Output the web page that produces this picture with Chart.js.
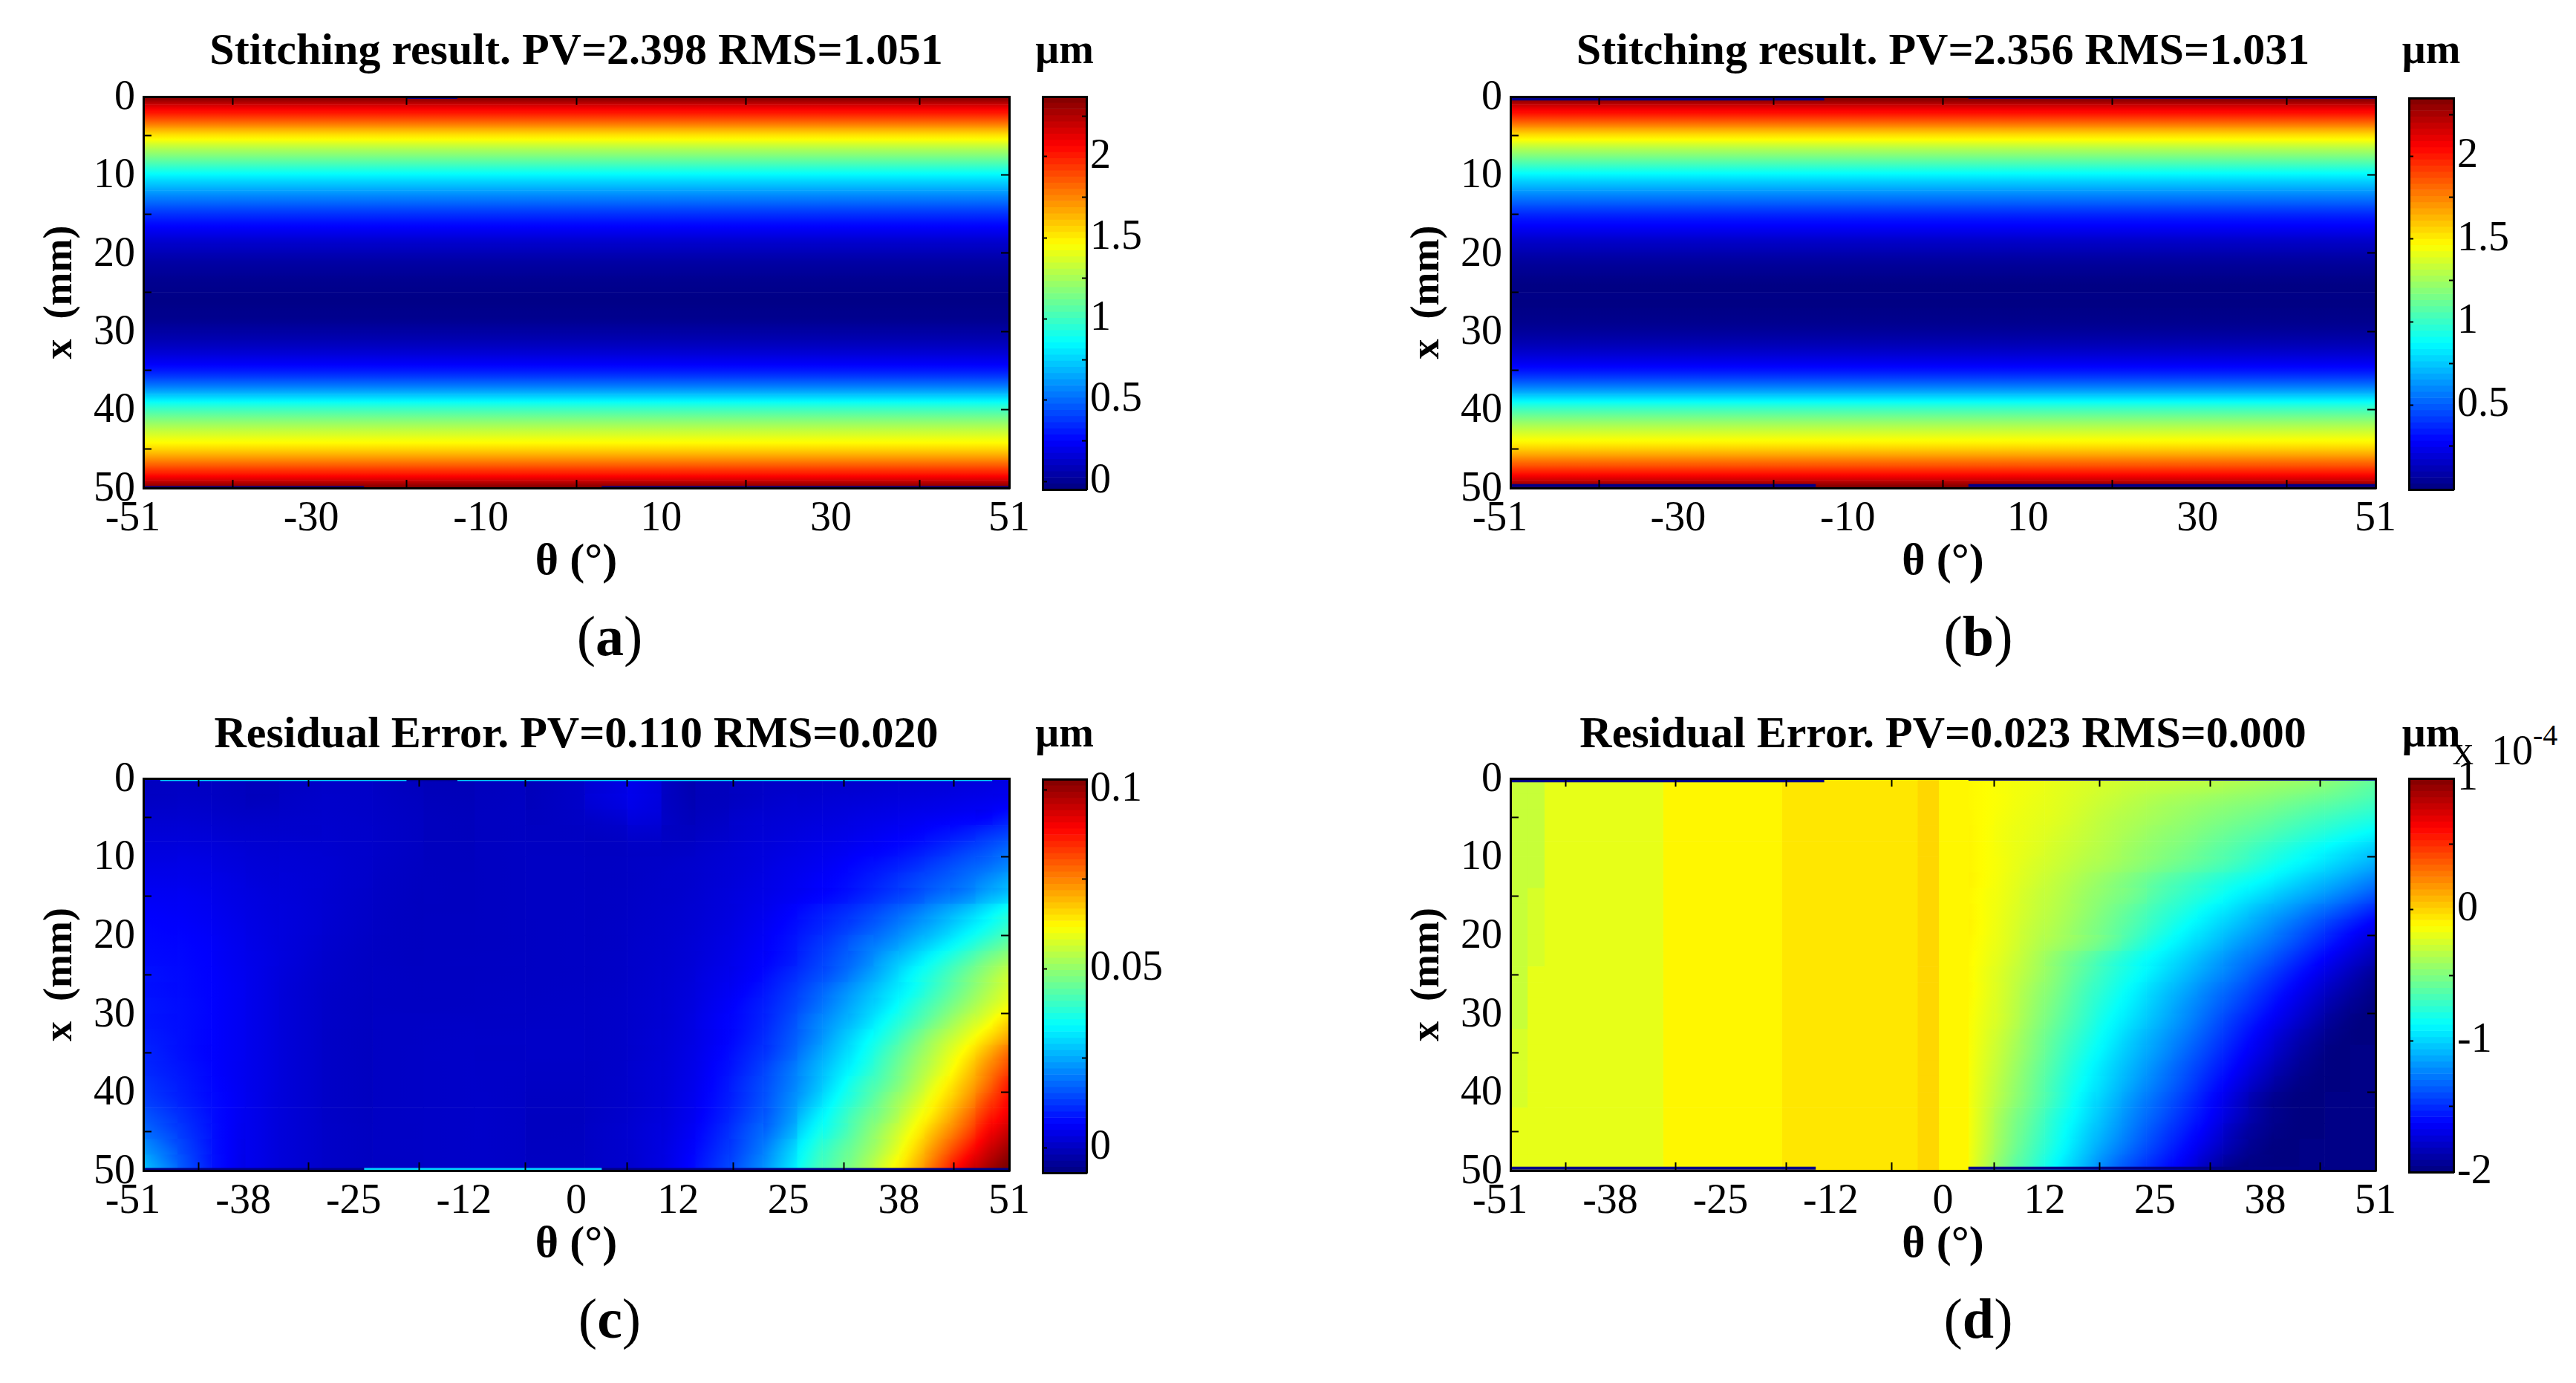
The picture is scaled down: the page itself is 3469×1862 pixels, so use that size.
<!DOCTYPE html>
<html>
<head>
<meta charset="utf-8">
<title>Stitching result and residual error</title>
<script src="https://cdn.jsdelivr.net/npm/chart.js@4/dist/chart.umd.min.js"></script>
<style>
    html, body { margin: 0; background: #fff; }
    #page { position: relative; width: 3469px; height: 1862px; overflow: hidden; font-family: "Liberation Serif", serif; color: #000; }
    canvas { position: absolute; }
    .caption { position: absolute; width: 200px; text-align: center; font-size: 76px; line-height: 76px; }
    .power { position: absolute; font-size: 56px; line-height: 56px; white-space: nowrap; word-spacing: 10px; }
    .power sup { font-size: 40px; line-height: 0; position: relative; vertical-align: baseline; top: -26px; }
</style>
</head>
<body>
<div id="page">
    <div class="caption" style="left:721px;top:818px">(<b>a</b>)</div>
    <div class="caption" style="left:2564px;top:818px">(<b>b</b>)</div>
    <div class="caption" style="left:721px;top:1737px">(<b>c</b>)</div>
    <div class="caption" style="left:2564px;top:1737px">(<b>d</b>)</div>
    <div class="power" style="left:3303px;top:982px">x 10<sup>-4</sup></div>
</div>

<script>
const thetaTicksTop = [-51, -30, -10, 10, 30, 51];
const thetaTicksBottom = [-51, -38, -25, -12, 0, 12, 25, 38, 51];
const xTicks = [0, 10, 20, 30, 40, 50];

// a, b: one row per mm, the same across theta (um)
const stitchRows = [0.5, 1.5, 2.5, 3.5, 4.5, 5.5, 6.5, 7.5, 8.5, 9.5, 10.5, 11.5, 12.5, 13.5, 14.5, 15.5, 16.5, 17.5, 18.5, 19.5, 20.5, 21.5, 22.5, 23.5, 24.5,
    25.5, 26.5, 27.5, 28.5, 29.5, 30.5, 31.5, 32.5, 33.5, 34.5, 35.5, 36.5, 37.5, 38.5, 39.5, 40.5, 41.5, 42.5, 43.5, 44.5, 45.5, 46.5, 47.5, 48.5, 49.5];
const stitchA = [2.30, 2.10, 1.95, 1.78, 1.60, 1.45, 1.30, 1.17, 1.04, 0.91, 0.79, 0.69, 0.59, 0.50, 0.41, 0.33, 0.26, 0.20, 0.14, 0.10, 0.06, 0.03, 0.01, -0.01, -0.02,
    -0.03, -0.03, -0.02, -0.01, 0.02, 0.05, 0.09, 0.14, 0.20, 0.27, 0.36, 0.48, 0.62, 0.78, 0.94, 1.07, 1.19, 1.30, 1.40, 1.50, 1.62, 1.76, 1.91, 2.07, 2.28];
const stitchB = [2.31, 2.11, 1.96, 1.79, 1.61, 1.46, 1.31, 1.18, 1.05, 0.92, 0.80, 0.70, 0.60, 0.51, 0.42, 0.34, 0.28, 0.22, 0.16, 0.12, 0.08, 0.05, 0.03, 0.01, 0,
    0, 0, 0.01, 0.02, 0.04, 0.07, 0.11, 0.16, 0.22, 0.29, 0.38, 0.50, 0.64, 0.80, 0.96, 1.09, 1.21, 1.32, 1.42, 1.52, 1.64, 1.78, 1.92, 2.08, 2.28];

// c, d: rows every 2 mm
const residualRows = [1, 3, 5, 7, 9, 11, 13, 15, 17, 19, 21, 23, 25, 27, 29, 31, 33, 35, 37, 39, 41, 43, 45, 47, 49];

// c: edges of the theta columns, values in 10^-3 um
const columnsC = [-51, -47, -43, -39, -35, -30, -24, -18, -12, -6, 1, 6, 10, 14, 18, 22, 26, 29, 32, 35, 38, 41, 44, 47, 49, 51];
const residualC = [
    [0.2, 0.4, 0, -0.4, 0.5, 0.9, 0.1, -0.8, -0.1, 0.1, 3, 4, -0.6, -0.5, 0.3, 1, 1.3, 1.6, 1.8, 2.2, 2.5, 2.8, 3.2, 3.6, 4],
    [0.6, 0.8, 0.3, -0.1, 0.8, 1, 0.3, -0.6, 0, 0.2, 3, 3.8, -0.4, -0.4, 0.6, 1.6, 2, 2.4, 2.8, 3.2, 3.6, 4, 4.6, 5, 5.5],
    [1.6, 1.6, 1, 0.8, 1.1, 1.1, 0.5, -0.4, 0.1, 0.2, 1.5, 3, 0, 0.2, 1.6, 2.2, 2.8, 3.2, 3.8, 4.4, 5, 5.7, 6.3, 6.8, 8.5],
    [2.4, 2.4, 1.8, 1.5, 1.4, 1.3, 0.6, -0.3, 0.1, 0.2, 0.5, 1.5, 0.2, 0.8, 2, 2.8, 3.5, 4, 4.8, 5.7, 6.5, 8, 9.5, 11.5, 13],
    [3.2, 3.2, 2.6, 2, 1.9, 1.4, 0.6, -0.2, 0.2, 0.3, 0.2, 0.6, 0.6, 1.5, 2.5, 3.4, 4.3, 5, 6, 7, 8.5, 10.5, 13, 15, 17],
    [4, 4, 3.2, 2.4, 2.2, 1.5, 0.5, -0.1, 0.2, 0.4, 0.3, 0.7, 1.1, 1.9, 2.8, 4, 5, 6, 7.5, 9, 11, 13.5, 16, 18, 20],
    [4.8, 4.6, 3.8, 2.8, 2.4, 1.5, 0.4, 0, 0.2, 0.4, 0.3, 0.8, 1.3, 2.1, 3.2, 4.5, 5.8, 7, 8.8, 11, 13.5, 16, 18.5, 21.5, 24],
    [5.6, 5.3, 4.2, 3.2, 2.5, 1.4, 0.3, 0, 0.2, 0.4, 0.4, 0.9, 1.4, 2.4, 3.6, 5, 6.4, 7.8, 10, 12.5, 15, 18.5, 21, 25, 27.5],
    [6.3, 5.8, 4.6, 3.4, 2.6, 1.3, 0.2, 0, 0.2, 0.4, 0.4, 1, 1.6, 2.6, 4, 6, 8.5, 10.5, 13, 16, 19.5, 23.5, 27.5, 31.5, 35],
    [6.8, 6.3, 5, 3.6, 2.6, 1.2, 0.2, 0.1, 0.2, 0.4, 0.5, 1.1, 1.7, 2.9, 4.5, 6.8, 9.5, 12, 15, 18.5, 22.5, 26.5, 31, 35, 38.5],
    [7.2, 6.8, 5.4, 3.8, 2.5, 1, 0.2, 0.1, 0.2, 0.4, 0.5, 1.2, 1.9, 3.2, 5, 7.5, 11, 14, 18, 21.5, 26, 30.5, 35.5, 40, 43.5],
    [7.5, 7, 5.6, 4, 2.4, 0.8, 0.2, 0.2, 0.3, 0.4, 0.6, 1.3, 2, 3.5, 5.5, 8, 12, 15.5, 19.5, 25, 30, 35.5, 41, 46, 49.5],
    [8, 7.2, 5.8, 4, 2.2, 0.7, 0.3, 0.2, 0.3, 0.4, 0.6, 1.4, 2.2, 4, 6, 9.5, 13.5, 17, 22, 27.5, 33.5, 39, 45, 50, 54],
    [8, 7.3, 6, 4, 2, 0.6, 0.3, 0.3, 0.4, 0.5, 0.7, 1.5, 2.4, 4.5, 7, 11, 15.5, 20, 25, 30, 35, 41, 47, 52, 56],
    [8.5, 7.5, 6, 4, 2, 0.5, 0.3, 0.3, 0.5, 0.6, 0.8, 1.6, 2.6, 5, 8, 12, 17, 22, 27, 32, 38, 44, 50, 55, 59],
    [8.5, 7.5, 6, 4, 2, 0.5, 0.5, 0.6, 0.6, 0.7, 0.8, 1.6, 2.8, 5.5, 8.5, 13, 19, 24, 29, 35, 41, 47.5, 54, 59, 64],
    [9, 7.5, 6, 4, 2, 0.4, 0.5, 0.7, 0.8, 0.8, 0.8, 1.8, 3, 5.5, 9, 14, 20, 26, 32, 38, 45, 52, 58, 64, 69],
    [9.5, 7.5, 6, 4, 2, 0.4, 0.5, 0.8, 0.8, 0.8, 0.8, 1.8, 3.2, 6, 10, 15, 22, 28, 34, 41, 48, 55, 62, 69, 75],
    [10, 8, 6, 4, 2, 0.4, 0.5, 0.8, 0.8, 0.6, 0.8, 2, 3.4, 6.5, 11, 17, 24, 30, 36, 43, 50, 57, 65, 73, 79],
    [11, 8.5, 6.2, 4, 2, 0.4, 0.5, 0.8, 0.8, 0.4, 0.8, 2, 3.6, 7, 12, 18, 25, 32, 39, 45, 52, 60, 68, 76, 83],
    [12, 9, 6.5, 4, 2, 0.4, 0.5, 0.8, 0.8, 0.2, 0.8, 2, 3.8, 7.5, 12.5, 19, 27, 34.5, 41, 48, 55, 63, 71, 80, 86],
    [14, 10, 6.5, 4, 2, 0.4, 0.5, 0.8, 0.8, 0, 0.8, 2.2, 4, 8, 13.5, 20, 30, 37, 44, 50, 58, 66, 75, 84, 89],
    [16, 11, 6.5, 4, 2, 0.5, 0.5, 0.8, 0.8, 0, 1, 2.5, 4.5, 9, 15, 22, 33, 39, 46, 53, 61, 70, 79, 88, 93],
    [19, 12, 6.5, 4, 2, 0.5, 0.5, 0.8, 0.8, 0.1, 1, 2.5, 5, 10, 16, 25, 36, 42, 48, 55, 64, 74, 84, 92, 97],
    [22, 13, 6.5, 4, 2, 0.5, 0.4, 0.8, 0.8, 0.2, 1, 2.5, 5.5, 11, 17.5, 27, 38, 44, 50, 58, 67, 78, 89, 96, 101]
];

// d: edges of the theta columns, values in 10^-6 um
const columnsD = [-51, -49, -47, -33, -19, -3, -0.5, 3, 6, 9, 12, 15, 18, 21, 24, 27, 30, 33, 36, 39, 42, 45, 48, 51];
const residualD = [
    [-28, -27, -19, -12, -6, -1, -8, -12, -15, -17, -20, -23, -26, -29, -31, -33, -35, -38, -41, -44, -47, -52, -58],
    [-28, -27, -19, -12, -6, -1, -8, -12, -15, -18, -21, -25, -29, -33, -37, -40, -43, -46, -49, -53, -57, -61, -66],
    [-28, -27, -19, -12, -6, -1, -8, -12, -16, -19, -22, -27, -32, -36, -40, -44, -48, -52, -56, -61, -66, -71, -76],
    [-28, -27, -19, -12, -6, -1, -8, -12, -17, -20, -24, -29, -34, -39, -44, -48, -53, -58, -63, -69, -75, -81, -87],
    [-28, -27, -19, -12, -6, -1, -8, -12, -17, -21, -26, -31, -36, -42, -47, -52, -58, -64, -71, -78, -85, -92, -99],
    [-28, -27, -19, -12, -6, -1, -8, -12, -17, -23, -28, -34, -39, -45, -51, -57, -63, -70, -78, -86, -93, -101, -109],
    [-28, -27, -19, -12, -6, -1, -8, -12, -18, -25, -31, -38, -45, -52, -60, -67, -74, -81, -88, -96, -104, -112, -121],
    [-28, -26, -19, -12, -6, -1, -8, -13, -19, -27, -33, -41, -48, -55, -65, -73, -81, -90, -98, -107, -115, -124, -134],
    [-28, -25, -19, -12, -6, -1, -8, -13, -20, -28, -35, -43, -52, -61, -71, -80, -90, -99, -109, -118, -128, -138, -149],
    [-28, -24, -19, -12, -6, -1, -8, -13, -21, -30, -37, -46, -55, -65, -76, -87, -97, -107, -117, -128, -139, -151, -162],
    [-28, -23, -19, -12, -6, -1, -8, -14, -22, -32, -40, -48, -58, -71, -83, -94, -104, -115, -125, -136, -148, -160, -172],
    [-28, -22, -19, -12, -6, -1, -8, -15, -24, -35, -47, -58, -70, -81, -91, -101, -112, -123, -133, -145, -157, -169, -180],
    [-28, -21, -19, -12, -6, -1, -8, -16, -26, -37, -49, -62, -74, -85, -96, -107, -118, -129, -141, -153, -165, -177, -188],
    [-28, -20, -19, -12, -6, -1, -8, -16, -27, -40, -52, -66, -78, -90, -102, -113, -125, -136, -148, -160, -172, -184, -193],
    [-28, -19, -19, -12, -6, -1, -8, -17, -28, -42, -55, -69, -82, -94, -106, -118, -130, -142, -154, -166, -178, -190, -197],
    [-27, -19, -19, -12, -6, -1, -8, -18, -29, -44, -58, -72, -86, -98, -110, -122, -135, -148, -160, -172, -184, -195, -200],
    [-26, -19, -19, -12, -6, -1, -8, -19, -32, -47, -62, -76, -90, -103, -115, -127, -140, -153, -166, -179, -190, -198, -200],
    [-25, -19, -19, -12, -6, -1, -8, -20, -34, -49, -65, -80, -94, -107, -119, -132, -145, -158, -171, -184, -194, -200, -200],
    [-24, -19, -19, -12, -6, -1, -8, -21, -36, -52, -68, -84, -98, -111, -124, -137, -150, -163, -177, -189, -197, -200, -200],
    [-23, -19, -19, -12, -6, -1, -8, -22, -38, -54, -71, -87, -101, -115, -128, -141, -155, -169, -183, -194, -199, -200, -200],
    [-22, -19, -19, -12, -6, -1, -8, -23, -40, -56, -73, -91, -105, -120, -133, -146, -160, -175, -190, -198, -200, -200, -200],
    [-21, -19, -19, -12, -6, -1, -8, -24, -44, -60, -78, -94, -109, -124, -137, -150, -163, -178, -191, -198, -200, -200, -200],
    [-20, -19, -19, -12, -6, -1, -8, -25, -46, -63, -81, -98, -113, -128, -142, -155, -168, -184, -194, -199, -200, -200, -200],
    [-19, -19, -19, -12, -6, -1, -8, -26, -48, -66, -84, -102, -118, -133, -147, -160, -174, -188, -197, -200, -200, -200, -200],
    [-19, -19, -19, -12, -6, -1, -8, -28, -52, -70, -89, -107, -125, -140, -153, -166, -182, -195, -199, -200, -200, -200, -200]
];

// thin edge artefacts along x=0 and x=50: [theta from, theta to, x, value]
const edgesA = [[-20, -14, 0.1, -0.05], [-51, -25, 49.95, -0.05], [3, 51, 49.95, -0.05]];
const edgesB = [[-51, -14, 0.3, 0], [3, 51, 0.1, 0], [-51, -15, 49.7, 0], [3, 51, 49.7, 0]];
const edgesC = [[-49, -20, 0.15, 30], [-20, -14, 0.15, -7], [-14, 49, 0.15, 30], [-51, -25, 49.85, -7], [-25, 3, 49.85, 30], [3, 51, 49.85, -7]];
const edgesD = [[-51, -14, 0.3, -200], [3, 51, 0.1, -200], [-51, -15, 49.7, -200], [3, 51, 49.7, -200]];

// colour limits [low, high] of each panel, in the units of its table
const limitsA = [-0.05, 2.37];
const limitsB = [-0.01, 2.35];
const limitsC = [-7, 103];
const limitsD = [-200, 100];

// colorbars: tick values, as printed next to the bar
const barTicksA = [0, 0.5, 1, 1.5, 2];
const barTicksB = [0.5, 1, 1.5, 2];
const barTicksC = [0, 0.05, 0.1];
const barTicksD = [-2, -1, 0, 1];

const TICK_FONT = { family: 'Liberation Serif', size: 56, lineHeight: 1 };
const TITLE_FONT = { family: 'Liberation Serif', size: 60, weight: 'bold', lineHeight: 1 };
const UNIT_FONT = { family: 'Liberation Serif', size: 56, weight: 'bold', lineHeight: 1 };
const LABEL_X_FONT = { family: 'Liberation Serif', size: 60, weight: 'bold', lineHeight: 1 };
const LABEL_Y_FONT = { family: 'Liberation Serif', size: 54, weight: 'bold', lineHeight: 1 };
const Y_W = 170, X_H = 130, RIGHT_PAD = 60;

const jetSmooth = (value, limits) => {
    let c = Math.max(0, Math.min(1, (value - limits[0]) / (limits[1] - limits[0])));
    const ch = k => Math.round(255 * Math.max(0, Math.min(1, 1.5 - Math.abs(4 * c - k))));
    return `rgb(${ch(3)},${ch(2)},${ch(1)})`;
};

// the 64 steps of the jet map
const jet = (value, limits) => {
    let t = (value - limits[0]) / (limits[1] - limits[0]);
    let i = Math.max(0, Math.min(63, Math.floor(t * 64)));
    return jetSmooth((i + 0.5) / 64, [0, 1]);
};

const addCanvas = (left, top, width, height) => {
    let canvas = document.createElement('canvas');
    canvas.width = width;
    canvas.height = height;
    canvas.style.left = left + 'px';
    canvas.style.top = top + 'px';
    canvas.style.width = width + 'px';
    canvas.style.height = height + 'px';
    document.getElementById('page').appendChild(canvas);
    return canvas.getContext('2d');
};

const fixSize = (key, size) => scale => {
    scale[key] = size;
    scale.paddingLeft = scale.paddingRight = scale.paddingTop = scale.paddingBottom = 0;
};

const useTicks = values => scale => {
    scale.ticks = values.map(value => ({ value }));
};

const gridOf = (len, width) => ({
    drawOnChartArea: false, drawTicks: true, tickLength: -len, tickWidth: width, tickColor: '#000', z: 1
});

const BORDER = { display: true, color: '#000', width: 3, z: 1 };

const edgeDatasets = (edges, limits) => edges.map(e => ({
    type: 'line', indexAxis: 'x', order: 0,
    data: [{ x: e[0], y: e[2] }, { x: e[1], y: e[2] }],
    borderColor: jet(e[3], limits), borderWidth: 4, pointRadius: 0
}));

// slope of a cell towards its neighbours, per pixel
const slope = (values, pixels, k) => {
    let a = Math.max(0, k - 1), b = Math.min(values.length - 1, k + 1);
    return a === b ? 0 : (values[b] - values[a]) / (pixels[b] - pixels[a]);
};

// cell colour: shaded across the cell following the slope of the table at that cell,
// columns before flatUntil keep one flat colour (sharp stripes of panel d)
const cellColor = (columns, rows, table, limits, j, flatUntil) => ctx => {
    let chart = ctx.chart;
    let row = table[ctx.dataIndex];
    if (!chart.chartArea || !row) return jet(row ? row[j] : limits[0], limits);
    let v = row[j];
    let sx = chart.scales.x, sy = chart.scales.y;
    let centres = columns.slice(0, -1).map((c, n) => (sx.getPixelForValue(c) + sx.getPixelForValue(columns[n + 1])) / 2);
    let rowPixels = rows.map(r => sy.getPixelForValue(r));
    let free = columns.length > 2 && j >= flatUntil;
    let gx = free ? slope(row.slice(flatUntil), centres.slice(flatUntil), j - flatUntil) : 0;
    let gy = free || columns.length === 2 ? slope(table.map(r => r[j]), rowPixels, ctx.dataIndex) : 0;
    let size = Math.hypot(gx, gy);
    if (size === 0) return jet(v, limits);
    let w = sx.getPixelForValue(columns[j + 1]) - sx.getPixelForValue(columns[j]);
    let h = Math.abs(rowPixels[1] - rowPixels[0]);
    let reach = (Math.abs(gx) * w + Math.abs(gy) * h) / (2 * size) + 1;
    let cx = centres[j], cy = rowPixels[ctx.dataIndex];
    let ux = gx / size * reach, uy = gy / size * reach;
    let gradient = chart.ctx.createLinearGradient(cx - ux, cy - uy, cx + ux, cy + uy);
    for (let s = 0; s <= 4; s++) {
        gradient.addColorStop(s / 4, jetSmooth(v + (s / 2 - 1) * size * reach, limits));
    }
    return gradient;
};

// one dataset per theta column, one bar per row
const cellDatasets = (columns, rows, table, limits, flatUntil) => columns.slice(0, -1).map((from, j) => ({
    indexAxis: 'y', order: 1, grouped: false, barPercentage: 1, categoryPercentage: 1,
    data: rows.map(x => ({ y: x, x: [from, columns[j + 1]] })),
    backgroundColor: cellColor(columns, rows, table, limits, j, flatUntil)
}));

const drawPanel = (plot, title, titlePad, thetaTicks, datasets) => {
    const plotW = plot.right - plot.left, plotH = plot.bottom - plot.top;
    const titleH = TITLE_FONT.size + titlePad;
    let ctx = addCanvas(plot.left - Y_W, plot.top - titleH, Y_W + plotW + RIGHT_PAD, titleH + plotH + X_H);
    return new Chart(ctx, {
        type: 'bar',
        data: { datasets },
        options: {
            responsive: false,
            animation: false,
            layout: { padding: { right: RIGHT_PAD } },
            plugins: {
                legend: { display: false },
                tooltip: { enabled: false },
                title: { display: true, text: title, color: '#000', font: TITLE_FONT, fullSize: false, padding: { top: 0, bottom: titlePad } }
            },
            scales: {
                x: {
                    type: 'linear', min: -51, max: 51, offset: false, position: 'bottom',
                    afterBuildTicks: useTicks(thetaTicks), afterFit: fixSize('height', X_H),
                    grid: gridOf(11, 2), border: BORDER,
                    ticks: {
                        autoSkip: false, maxRotation: 0, color: '#000', font: TICK_FONT, padding: 25,
                        // the digits sit on the tick, the minus hangs to the left
                        callback: v => v < 0 ? v + '\u00a0\u00a0' : String(v)
                    },
                    title: { display: true, text: 'θ (°)', color: '#000', font: LABEL_X_FONT, padding: { top: 2, bottom: 0 } }
                },
                y: {
                    type: 'linear', min: 0, max: 50, reverse: true, offset: false, position: 'left',
                    afterBuildTicks: useTicks(xTicks), afterFit: fixSize('width', Y_W),
                    grid: gridOf(11, 2), border: BORDER,
                    ticks: { autoSkip: false, color: '#000', font: TICK_FONT, padding: 22, labelOffset: 2, callback: v => String(v) },
                    title: { display: true, text: 'x  (mm)', color: '#000', font: LABEL_Y_FONT, padding: { top: 32, bottom: 0 } }
                },
                x2: {
                    type: 'linear', axis: 'x', min: -51, max: 51, offset: false, position: 'top',
                    afterBuildTicks: useTicks(thetaTicks), afterFit: fixSize('height', 0),
                    grid: gridOf(11, 2), border: BORDER, ticks: { display: false }
                },
                y2: {
                    type: 'linear', axis: 'y', min: 0, max: 50, reverse: true, offset: false, position: 'right',
                    afterBuildTicks: useTicks(xTicks), afterFit: fixSize('width', 0),
                    grid: gridOf(11, 2), border: BORDER, ticks: { display: false }
                }
            }
        }
    });
};

const drawColorbar = (bar, titlePad, range, ticks) => {
    // same width each side of the bar, so the unit stays centred over it
    const SIDE_W = 165;
    const plotW = bar.right - bar.left, plotH = bar.bottom - bar.top;
    const titleH = UNIT_FONT.size + titlePad;
    let ctx = addCanvas(bar.left - SIDE_W, bar.top - titleH, SIDE_W + plotW + SIDE_W, titleH + plotH + 40);
    // 64 colour steps of the jet map between the limits of the bar
    const step = (range[1] - range[0]) / 64;
    const levels = Array.from({ length: 64 }, (_, i) => range[0] + (i + 0.5) * step);
    return new Chart(ctx, {
        type: 'bar',
        data: {
            datasets: [{
                indexAxis: 'y', grouped: false, barPercentage: 1, categoryPercentage: 1,
                data: levels.map(v => ({ y: v, x: [0, 1] })),
                backgroundColor: levels.map(v => jet(v, range))
            }]
        },
        options: {
            responsive: false,
            animation: false,
            layout: { padding: { bottom: 40 } },
            plugins: {
                legend: { display: false },
                tooltip: { enabled: false },
                title: { display: true, text: 'µm', color: '#000', font: UNIT_FONT, fullSize: true, padding: { top: 0, bottom: titlePad } }
            },
            scales: {
                x: { type: 'linear', min: 0, max: 1, offset: false, position: 'top', display: true, afterFit: fixSize('height', 0), grid: { display: false }, ticks: { display: false }, border: BORDER },
                x2: { type: 'linear', axis: 'x', min: 0, max: 1, offset: false, position: 'bottom', afterFit: fixSize('height', 0), grid: { display: false }, ticks: { display: false }, border: BORDER },
                y: {
                    type: 'linear', min: range[0], max: range[1], offset: false, position: 'right',
                    afterBuildTicks: useTicks(ticks), afterFit: fixSize('width', SIDE_W),
                    grid: gridOf(6, 2), border: BORDER,
                    ticks: { autoSkip: false, color: '#000', font: TICK_FONT, padding: 11, callback: v => String(v) }
                },
                y2: {
                    type: 'linear', axis: 'y', min: range[0], max: range[1], offset: false, position: 'left',
                    afterBuildTicks: useTicks(ticks), afterFit: fixSize('width', SIDE_W),
                    grid: gridOf(6, 2), border: BORDER, ticks: { display: false }
                }
            }
        }
    });
};

const fullSpan = [-51, 51];

drawPanel({ left: 193, right: 1359, top: 130, bottom: 657 }, 'Stitching result. PV=2.398 RMS=1.051', 30, thetaTicksTop,
    [...edgeDatasets(edgesA, limitsA), ...cellDatasets(fullSpan, stitchRows, stitchA.map(v => [v]), limitsA, 1)]);
drawPanel({ left: 2034, right: 3199, top: 130, bottom: 657 }, 'Stitching result. PV=2.356 RMS=1.031', 30, thetaTicksTop,
    [...edgeDatasets(edgesB, limitsB), ...cellDatasets(fullSpan, stitchRows, stitchB.map(v => [v]), limitsB, 1)]);
drawPanel({ left: 193, right: 1359, top: 1048, bottom: 1576 }, 'Residual Error. PV=0.110 RMS=0.020', 28, thetaTicksBottom,
    [...edgeDatasets(edgesC, limitsC), ...cellDatasets(columnsC, residualRows, residualC, limitsC, 0)]);
drawPanel({ left: 2034, right: 3199, top: 1048, bottom: 1576 }, 'Residual Error. PV=0.023 RMS=0.000', 28, thetaTicksBottom,
    [...edgeDatasets(edgesD, limitsD), ...cellDatasets(columnsD, residualRows, residualD, limitsD, 7)]);

drawColorbar({ left: 1404, right: 1463, top: 130, bottom: 659 }, 31, limitsA, barTicksA);
drawColorbar({ left: 3244, right: 3304, top: 132, bottom: 659 }, 33, limitsB, barTicksB);
drawColorbar({ left: 1404, right: 1463, top: 1049, bottom: 1579 }, 30, [-0.007, 0.103], barTicksC);
drawColorbar({ left: 3244, right: 3304, top: 1048, bottom: 1578 }, 29, [-2, 1], barTicksD);
</script>
</body>
</html>
